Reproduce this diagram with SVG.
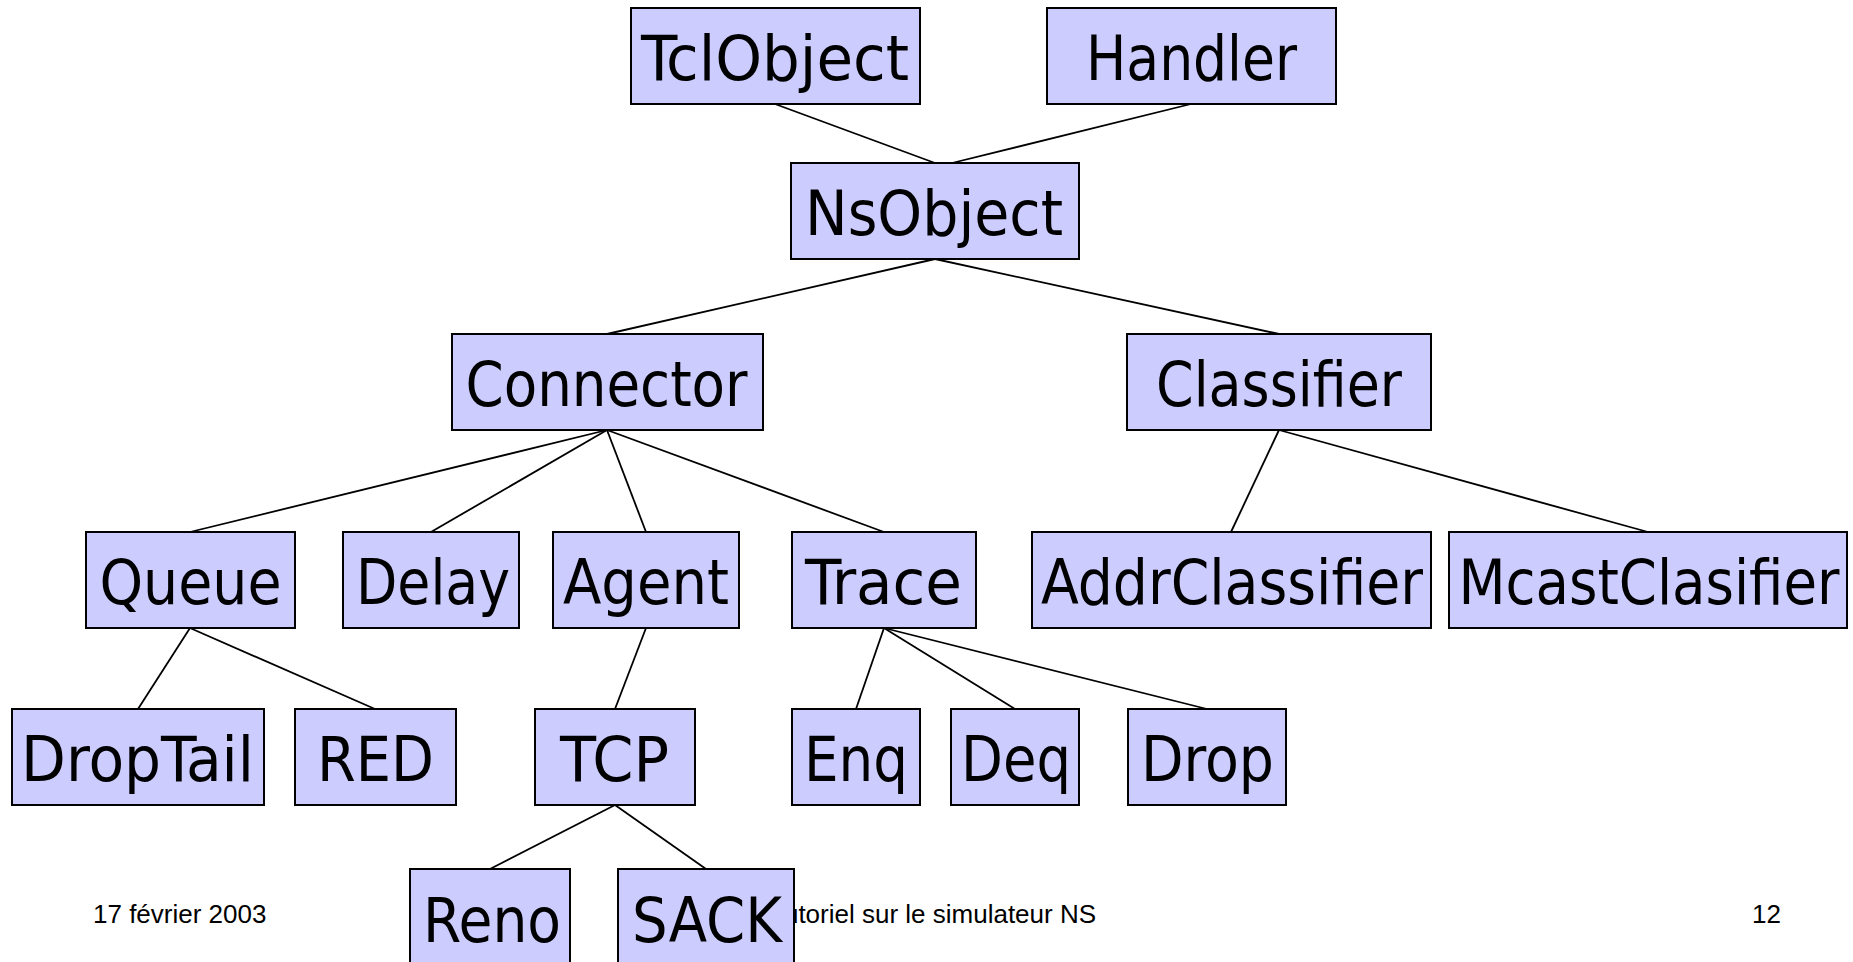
<svg xmlns="http://www.w3.org/2000/svg" width="1853" height="962" viewBox="0 0 1853 962">
  <style>
    .box { fill: #CCCCFF; stroke: #000000; stroke-width: 2; }
    .lbl { font-family: "DejaVu Sans Condensed", "DejaVu Sans", sans-serif; font-stretch: condensed; font-size: 62px; fill: #000000; text-anchor: middle; }
    .edge { stroke: #000000; stroke-width: 1.8; fill: none; }
    .foot { font-family: "Liberation Sans", Arial, sans-serif; font-size: 26px; fill: #000000; }
  </style>
  <rect x="0" y="0" width="1853" height="962" fill="#FFFFFF"/>

  <!-- slide footer (drawn first, partly covered by the bottom row) -->
  <g id="footer">
    <text class="foot" x="93" y="923">17 février 2003</text>
    <text class="foot" x="769" y="923">Tutoriel sur le simulateur NS</text>
    <text class="foot" x="1752" y="923">12</text>
  </g>

  <!-- inheritance links: parent bottom-centre to child top-centre -->
  <g id="connectors">
    <line class="edge" x1="775" y1="104" x2="935" y2="163"/>
    <line class="edge" x1="1191" y1="104" x2="952" y2="163"/>
    <line class="edge" x1="935" y1="259" x2="607" y2="334"/>
    <line class="edge" x1="935" y1="259" x2="1279" y2="334"/>
    <line class="edge" x1="607" y1="430" x2="190" y2="532"/>
    <line class="edge" x1="607" y1="430" x2="431" y2="532"/>
    <line class="edge" x1="607" y1="430" x2="646" y2="532"/>
    <line class="edge" x1="607" y1="430" x2="884" y2="532"/>
    <line class="edge" x1="1279" y1="430" x2="1231" y2="532"/>
    <line class="edge" x1="1279" y1="430" x2="1648" y2="532"/>
    <line class="edge" x1="190" y1="628" x2="138" y2="709"/>
    <line class="edge" x1="190" y1="628" x2="375" y2="709"/>
    <line class="edge" x1="646" y1="628" x2="615" y2="709"/>
    <line class="edge" x1="884" y1="628" x2="856" y2="709"/>
    <line class="edge" x1="884" y1="628" x2="1015" y2="709"/>
    <line class="edge" x1="884" y1="628" x2="1207" y2="709"/>
    <line class="edge" x1="615" y1="805" x2="490" y2="869"/>
    <line class="edge" x1="615" y1="805" x2="706" y2="869"/>
  </g>

  <g id="TclObject"><rect class="box" x="631" y="8" width="289" height="96"/><text class="lbl" x="775" y="80" textLength="268" lengthAdjust="spacingAndGlyphs">TclObject</text></g>
  <g id="Handler"><rect class="box" x="1047" y="8" width="289" height="96"/><text class="lbl" x="1191.5" y="80" textLength="211" lengthAdjust="spacingAndGlyphs">Handler</text></g>
  <g id="NsObject"><rect class="box" x="791" y="163" width="288" height="96"/><text class="lbl" x="934" y="235" textLength="258" lengthAdjust="spacingAndGlyphs">NsObject</text></g>
  <g id="Connector"><rect class="box" x="452" y="334" width="311" height="96"/><text class="lbl" x="606.5" y="406" textLength="282" lengthAdjust="spacingAndGlyphs">Connector</text></g>
  <g id="Classifier"><rect class="box" x="1127" y="334" width="304" height="96"/><text class="lbl" x="1279" y="406" textLength="246" lengthAdjust="spacingAndGlyphs">Classifier</text></g>
  <g id="Queue"><rect class="box" x="86" y="532" width="209" height="96"/><text class="lbl" x="190.5" y="604" textLength="182" lengthAdjust="spacingAndGlyphs">Queue</text></g>
  <g id="Delay"><rect class="box" x="343" y="532" width="176" height="96"/><text class="lbl" x="433" y="604" textLength="154" lengthAdjust="spacingAndGlyphs">Delay</text></g>
  <g id="Agent"><rect class="box" x="553" y="532" width="186" height="96"/><text class="lbl" x="646" y="604" textLength="166" lengthAdjust="spacingAndGlyphs">Agent</text></g>
  <g id="Trace"><rect class="box" x="792" y="532" width="184" height="96"/><text class="lbl" x="883.5" y="604" textLength="157" lengthAdjust="spacingAndGlyphs">Trace</text></g>
  <g id="AddrClassifier"><rect class="box" x="1032" y="532" width="399" height="96"/><text class="lbl" x="1232" y="604" textLength="382" lengthAdjust="spacingAndGlyphs">AddrClassifier</text></g>
  <g id="McastClasifier"><rect class="box" x="1449" y="532" width="398" height="96"/><text class="lbl" x="1649" y="604" textLength="381" lengthAdjust="spacingAndGlyphs">McastClasifier</text></g>
  <g id="DropTail"><rect class="box" x="12" y="709" width="252" height="96"/><text class="lbl" x="137.5" y="781" textLength="233" lengthAdjust="spacingAndGlyphs">DropTail</text></g>
  <g id="RED"><rect class="box" x="295" y="709" width="161" height="96"/><text class="lbl" x="375.5" y="781" textLength="117" lengthAdjust="spacingAndGlyphs">RED</text></g>
  <g id="TCP"><rect class="box" x="535" y="709" width="160" height="96"/><text class="lbl" x="614.5" y="781" textLength="109" lengthAdjust="spacingAndGlyphs">TCP</text></g>
  <g id="Enq"><rect class="box" x="792" y="709" width="128" height="96"/><text class="lbl" x="856" y="781" textLength="104" lengthAdjust="spacingAndGlyphs">Enq</text></g>
  <g id="Deq"><rect class="box" x="951" y="709" width="128" height="96"/><text class="lbl" x="1016" y="781" textLength="110" lengthAdjust="spacingAndGlyphs">Deq</text></g>
  <g id="Drop"><rect class="box" x="1128" y="709" width="158" height="96"/><text class="lbl" x="1207.5" y="781" textLength="133" lengthAdjust="spacingAndGlyphs">Drop</text></g>
  <g id="Reno"><rect class="box" x="410" y="869" width="160" height="96"/><text class="lbl" x="492" y="942" textLength="138" lengthAdjust="spacingAndGlyphs">Reno</text></g>
  <g id="SACK"><rect class="box" x="618" y="869" width="176" height="96"/><text class="lbl" x="707" y="942" textLength="150" lengthAdjust="spacingAndGlyphs">SACK</text></g>
</svg>
